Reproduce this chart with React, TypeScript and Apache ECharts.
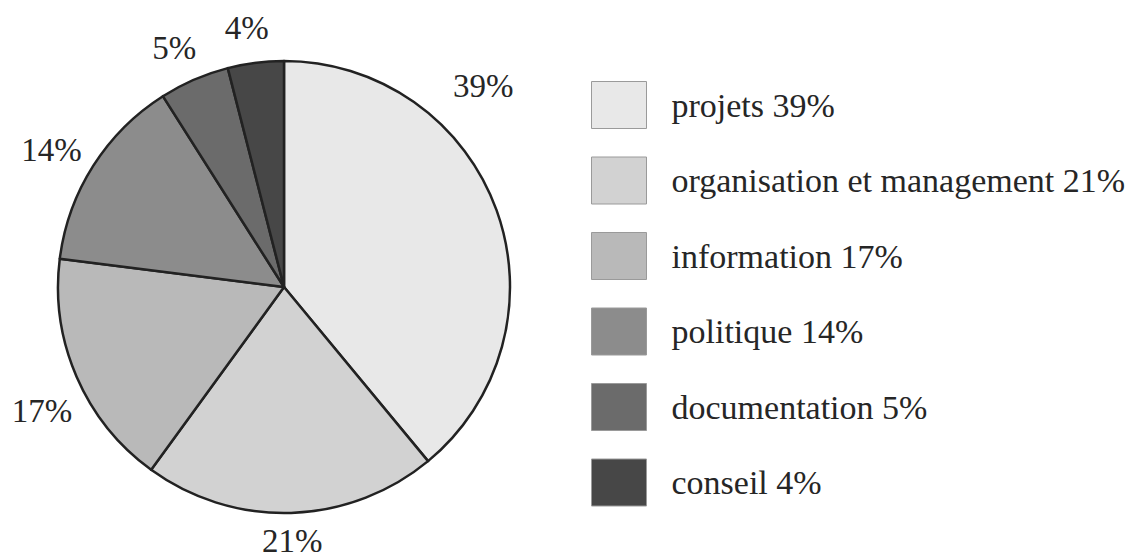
import React, { useEffect, useRef } from "react";
import * as echarts from "echarts";

const categories = ["projets", "organisation et management", "information", "politique", "documentation", "conseil"];
const values = [39, 21, 17, 14, 5, 4];
const colors = ["#e8e8e8", "#d2d2d2", "#b9b9b9", "#8c8c8c", "#6b6b6b", "#474747"];
// fine nudges of the percentage labels relative to ECharts' own outside placement
const labelNudges: [number, number][] = [[-51, -111], [0, -12], [2, 18], [-8, 6], [-4, 5], [-4, 5]];

export default function App() {
  const ref = useRef<HTMLDivElement>(null);
  useEffect(() => {
    const chart = echarts.init(ref.current!, null, { renderer: "svg" });
    const serif = "'Liberation Serif', 'Times New Roman', serif";
    chart.setOption({
      animation: false,
      backgroundColor: "#ffffff",
      color: colors,
      legend: {
        orient: "vertical",
        left: 591,
        top: 81,
        padding: 0,
        itemWidth: 55,
        itemHeight: 47,
        itemGap: 27.5,
        icon: "rect",
        itemStyle: { borderColor: "#9a9a9a", borderWidth: 1 },
        textStyle: { fontFamily: serif, fontSize: 34, color: "#262626", padding: [0, 0, 0, 20] },
        formatter: (name: string) => {
          const i = categories.indexOf(name);
          return `${name} ${values[i]}%`;
        },
        data: categories,
      },
      series: [
        {
          type: "pie",
          center: [284, 287],
          radius: 226,
          startAngle: 90,
          clockwise: true,
          avoidLabelOverlap: false,
          itemStyle: { borderColor: "#222222", borderWidth: 2.5 },
          label: {
            show: true,
            position: "outside",
            formatter: "{c}%",
            fontFamily: serif,
            fontSize: 33,
            color: "#262626",
            distanceToLabelLine: 0,
          },
          labelLine: { show: false, length: 40, length2: 0 },
          emphasis: { disabled: true },
          labelLayout: (p: any) => {
            const n = labelNudges[p.dataIndex] || [0, 0];
            return { dx: n[0], dy: n[1], align: "center", verticalAlign: "middle" };
          },
          data: categories.map((c, i) => ({ name: c, value: values[i] })),
        },
      ],
    });
    return () => chart.dispose();
  }, []);
  return <div ref={ref} style={{ position: "fixed", left: 0, top: 0, width: 1140, height: 558 }} />;
}
